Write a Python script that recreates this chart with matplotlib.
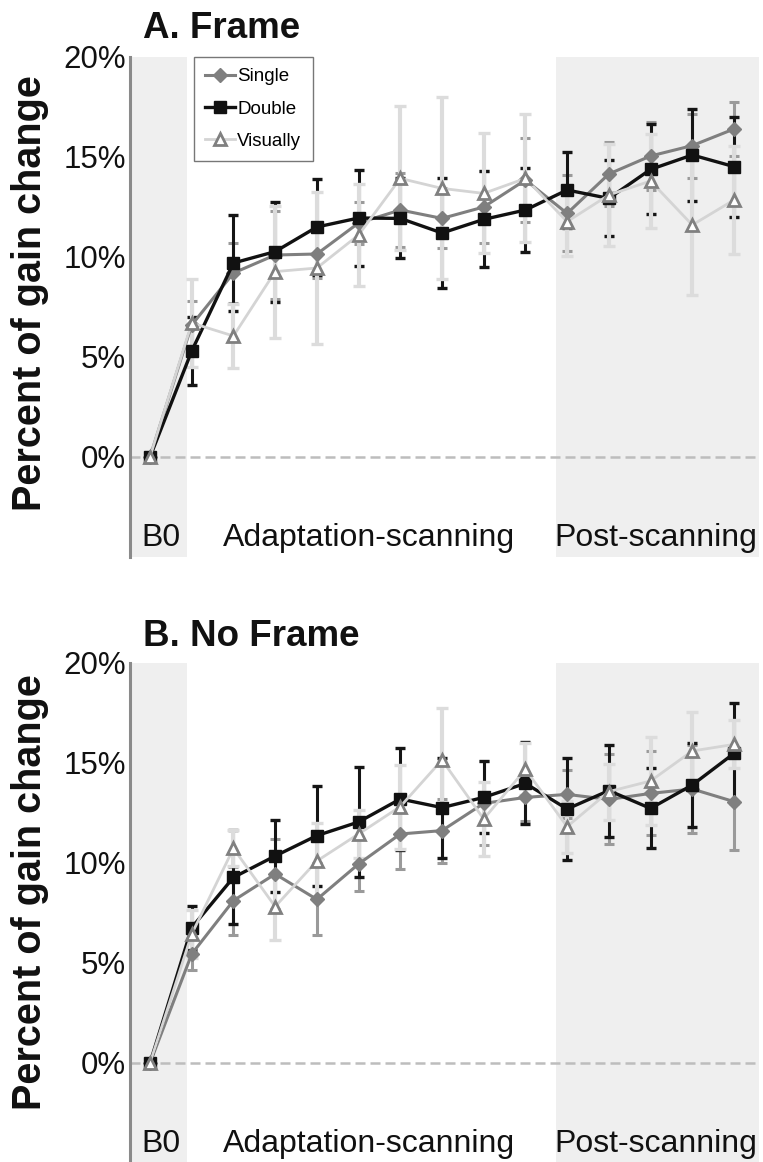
import matplotlib
matplotlib.use("Agg")
import matplotlib.pyplot as plt

plt.rcParams['font.family'] = ['Liberation Sans', 'DejaVu Sans']

# DATA (percent of gain change, 15 time points: B0, 9 adaptation, 5 post)
steps = list(range(15))

# A. Frame
single_a = [0, 6.6, 9.2, 10.1, 10.15, 11.7, 12.35, 11.93, 12.5, 13.85, 12.18, 14.15, 15.05, 15.57, 16.4]
double_a = [0, 5.3, 9.7, 10.27, 11.5, 11.95, 11.93, 11.2, 11.88, 12.35, 13.35, 12.93, 14.38, 15.1, 14.52]
visual_a = [0, 6.7, 6.05, 9.27, 9.45, 11.1, 13.93, 13.43, 13.18, 13.93, 11.77, 13.1, 13.8, 11.6, 12.85]
single_a_err = [0, 1.2, 1.5, 2.2, 1.2, 1.05, 1.85, 1.5, 1.8, 2.1, 1.9, 1.6, 1.7, 1.6, 1.35]
double_a_err = [0, 1.7, 2.4, 2.5, 2.4, 2.4, 2.0, 2.75, 2.4, 2.1, 1.9, 1.9, 2.25, 2.3, 2.5]
visual_a_err = [0, 2.2, 1.6, 3.3, 3.8, 2.55, 3.6, 4.55, 3.0, 3.2, 1.7, 2.55, 2.35, 3.5, 2.7]

# B. No Frame
single_b = [0, 5.45, 8.12, 9.45, 8.18, 9.95, 11.45, 11.62, 12.98, 13.28, 13.43, 13.18, 13.48, 13.7, 13.07]
double_b = [0, 6.77, 9.28, 10.35, 11.37, 12.05, 13.2, 12.77, 13.28, 13.98, 12.7, 13.62, 12.73, 13.9, 15.48]
visual_b = [0, 6.45, 10.73, 7.82, 10.1, 11.45, 12.82, 15.15, 12.2, 14.68, 11.82, 13.57, 14.1, 15.6, 15.93]
single_b_err = [0, 0.8, 1.7, 1.73, 1.8, 1.35, 1.77, 1.6, 2.1, 1.2, 1.2, 2.25, 2.1, 2.2, 2.4]
double_b_err = [0, 1.1, 2.35, 1.8, 2.5, 2.75, 2.55, 2.5, 1.8, 2.05, 2.55, 2.3, 2.0, 2.1, 2.5]
visual_b_err = [0, 1.2, 0.9, 1.65, 1.9, 1.2, 2.1, 2.6, 1.87, 1.3, 1.3, 1.4, 2.2, 1.97, 1.2]

series_names = ['Single', 'Double', 'Visually']
ytick_vals = [0, 5, 10, 15, 20]
ytick_labels = ['0%', '5%', '10%', '15%', '20%']
phase_labels = ['B0', 'Adaptation-scanning', 'Post-scanning']
phase_pos = [0.26, 5.24, 12.13]


def draw_panel(ax, single, double, visual, s_err, d_err, v_err, legend=False):
    ax.set_xlim(-0.48, 14.6)
    ax.set_ylim(-5, 20)
    # shaded phases
    ax.axvspan(-0.48, 0.885, color='#efefef', lw=0, zorder=0)
    ax.axvspan(9.74, 14.6, color='#efefef', lw=0, zorder=0)
    ax.axhline(0, color='#bdbdbd', lw=1.8, ls=(0, (4, 2)), zorder=1)

    # error bars
    ax.errorbar(steps, single, yerr=s_err, fmt='none', ecolor='#9a9a9a',
                elinewidth=2.2, capsize=3.5, capthick=2.2, zorder=2)
    ax.errorbar(steps, double, yerr=d_err, fmt='none', ecolor='#151515',
                elinewidth=2.2, capsize=3.5, capthick=2.4, zorder=3)
    ax.errorbar(steps, visual, yerr=v_err, fmt='none', ecolor='#dcdcdc',
                elinewidth=3.0, capsize=4, capthick=2.4, zorder=4)

    # lines + markers
    l1, = ax.plot(steps, single, color='#7f7f7f', lw=2.2, marker='D',
                  ms=7.5, mfc='#7f7f7f', mec='#7f7f7f', zorder=5, label=series_names[0])
    l2, = ax.plot(steps, double, color='#111111', lw=2.4, marker='s',
                  ms=8, mfc='#111111', mec='#111111', zorder=6, label=series_names[1])
    l3, = ax.plot(steps, visual, color='#d4d4d4', lw=2.0, marker='^',
                  ms=8.5, mfc='white', mec='#808080', mew=2.0, zorder=7, label=series_names[2])

    for lab, xp in zip(phase_labels, phase_pos):
        ax.text(xp, -4.05, lab, ha='center', va='center', fontsize=23, color='#111111')

    ax.set_yticks(ytick_vals)
    ax.set_yticklabels(ytick_labels, fontsize=22.5, color='#111111')
    ax.set_xticks([])
    ax.tick_params(axis='y', length=0, pad=3)
    for s in ['top', 'right', 'bottom']:
        ax.spines[s].set_visible(False)
    ax.spines['left'].set_color('#8a8a8a')
    ax.spines['left'].set_linewidth(2.2)

    if legend:
        leg = ax.legend(handles=[l1, l2, l3], loc='upper left',
                        bbox_to_anchor=(0.102, 1.0), fontsize=13.5, frameon=True,
                        fancybox=False, handlelength=1.6, handletextpad=0.1,
                        borderpad=0.6, labelspacing=0.8, borderaxespad=0.0)
        leg.get_frame().set_edgecolor('#555555')
        leg.get_frame().set_linewidth(1.0)
        leg.set_zorder(10)


fig = plt.figure(figsize=(7.63, 11.62), dpi=100)
W, H = 763.0, 1162.0
ax_a = fig.add_axes([130 / W, 1 - 557 / H, 629 / W, 500 / H])
ax_b = fig.add_axes([130 / W, 1 - 1163 / H, 629 / W, 500 / H])

draw_panel(ax_a, single_a, double_a, visual_a, single_a_err, double_a_err, visual_a_err, legend=True)
draw_panel(ax_b, single_b, double_b, visual_b, single_b_err, double_b_err, visual_b_err)

fig.text(143 / W, 1 - 38 / H, 'A. Frame', fontsize=26.5, fontweight='bold', va='baseline', color='#111111')
fig.text(143 / W, 1 - 646 / H, 'B. No Frame', fontsize=26.5, fontweight='bold', va='baseline', color='#111111')

fig.text(30 / W, 1 - 293 / H, 'Percent of gain change', rotation=90, fontsize=28.5,
         fontweight='bold', ha='center', va='center', color='#111111')
fig.text(30 / W, 1 - 892 / H, 'Percent of gain change', rotation=90, fontsize=28.5,
         fontweight='bold', ha='center', va='center', color='#111111')

fig.savefig('out.png', dpi=100)
